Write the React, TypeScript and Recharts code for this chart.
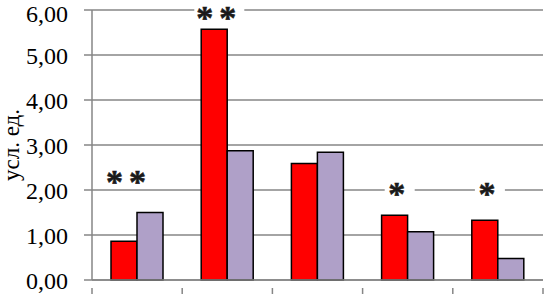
import { BarChart, Bar, XAxis, YAxis, CartesianGrid, ReferenceDot, Label } from "recharts";

const groups = ["g1", "g2", "g3", "g4", "g5"];
const redValues = [0.86, 5.57, 2.59, 1.44, 1.33];
const lilacValues = [1.5, 2.87, 2.84, 1.07, 0.48];
const marks = ["**", "**", "", "*", "*"];
const markLevels = [2.27, 5.92, 0, 2.0, 2.0];
const yTicks = [0, 1, 2, 3, 4, 5, 6];

const data = groups.map((g, i) => ({ g, red: redValues[i], lilac: lilacValues[i] }));

const W = 545;
const H = 294;
const LEFT = 92;
const RIGHT = 2;
const BAND = (W - LEFT - RIGHT) / groups.length;
const serif = "'Liberation Serif', 'Times New Roman', serif";

function BoundaryTick(props: any) {
    const { x, y, index } = props;
    const left = x - BAND / 2;
    return (
        <g>
            <line x1={left} x2={left} y1={y} y2={y + 9} stroke="#868686" strokeWidth={1.5} />
            {index === groups.length - 1 && (
                <line x1={x + BAND / 2} x2={x + BAND / 2} y1={y} y2={y + 9} stroke="#868686" strokeWidth={1.5} />
            )}
        </g>
    );
}

function StarMark(text: string) {
    return (props: any) => {
        const { cx, cy } = props;
        const w = text.length * 20 + 10;
        return (
            <g>
                <rect x={cx - 8 - w / 2} y={cy - 10} width={w} height={20} fill="#fff" />
                <text
                    x={cx - 8}
                    y={cy + 15}
                    textAnchor="middle"
                    fontFamily={serif}
                    fontWeight="bold"
                    fontSize={34}
                    letterSpacing={6}
                    fill="#1a1a1a"
                    stroke="#1a1a1a"
                    strokeWidth={0.6}
                >
                    {text}
                </text>
            </g>
        );
    };
}

export default function App() {
    return (
        <div style={{ position: "absolute", left: 0, top: 0, background: "#fff" }}>
            <BarChart
                width={W}
                height={H}
                data={data}
                margin={{ top: 10, right: RIGHT, bottom: 0, left: 0 }}
                barGap={0}
                barCategoryGap={19}
            >
                <CartesianGrid vertical={false} stroke="#868686" strokeWidth={1.5} />
                <XAxis
                    dataKey="g"
                    axisLine={{ stroke: "#868686", strokeWidth: 1.5 }}
                    tickLine={false}
                    tick={<BoundaryTick />}
                    height={14}
                    interval={0}
                />
                <YAxis
                    domain={[0, 6]}
                    ticks={yTicks}
                    width={LEFT}
                    axisLine={{ stroke: "#868686", strokeWidth: 1.5 }}
                    tickLine={{ stroke: "#868686", strokeWidth: 1.5 }}
                    tickSize={8}
                    tickMargin={16}
                    tick={{ fill: "#000", fontSize: 24, fontFamily: serif }}
                    tickFormatter={(v) => v.toFixed(2).replace(".", ",")}
                >
                    <Label
                        value="усл. ед."
                        angle={-90}
                        position="insideLeft"
                        offset={11}
                        style={{ fill: "#000", fontSize: 23, fontFamily: serif, textAnchor: "middle" }}
                    />
                </YAxis>
                <Bar dataKey="red" fill="#FF0000" stroke="#000" strokeWidth={1.5} isAnimationActive={false} />
                <Bar dataKey="lilac" fill="#AFA0C8" stroke="#000" strokeWidth={1.5} isAnimationActive={false} />
                {marks.map((m, i) =>
                    m ? (
                        <ReferenceDot
                            key={i}
                            x={groups[i]}
                            y={markLevels[i]}
                            ifOverflow="visible"
                            shape={StarMark(m)}
                        />
                    ) : null
                )}
            </BarChart>
        </div>
    );
}
